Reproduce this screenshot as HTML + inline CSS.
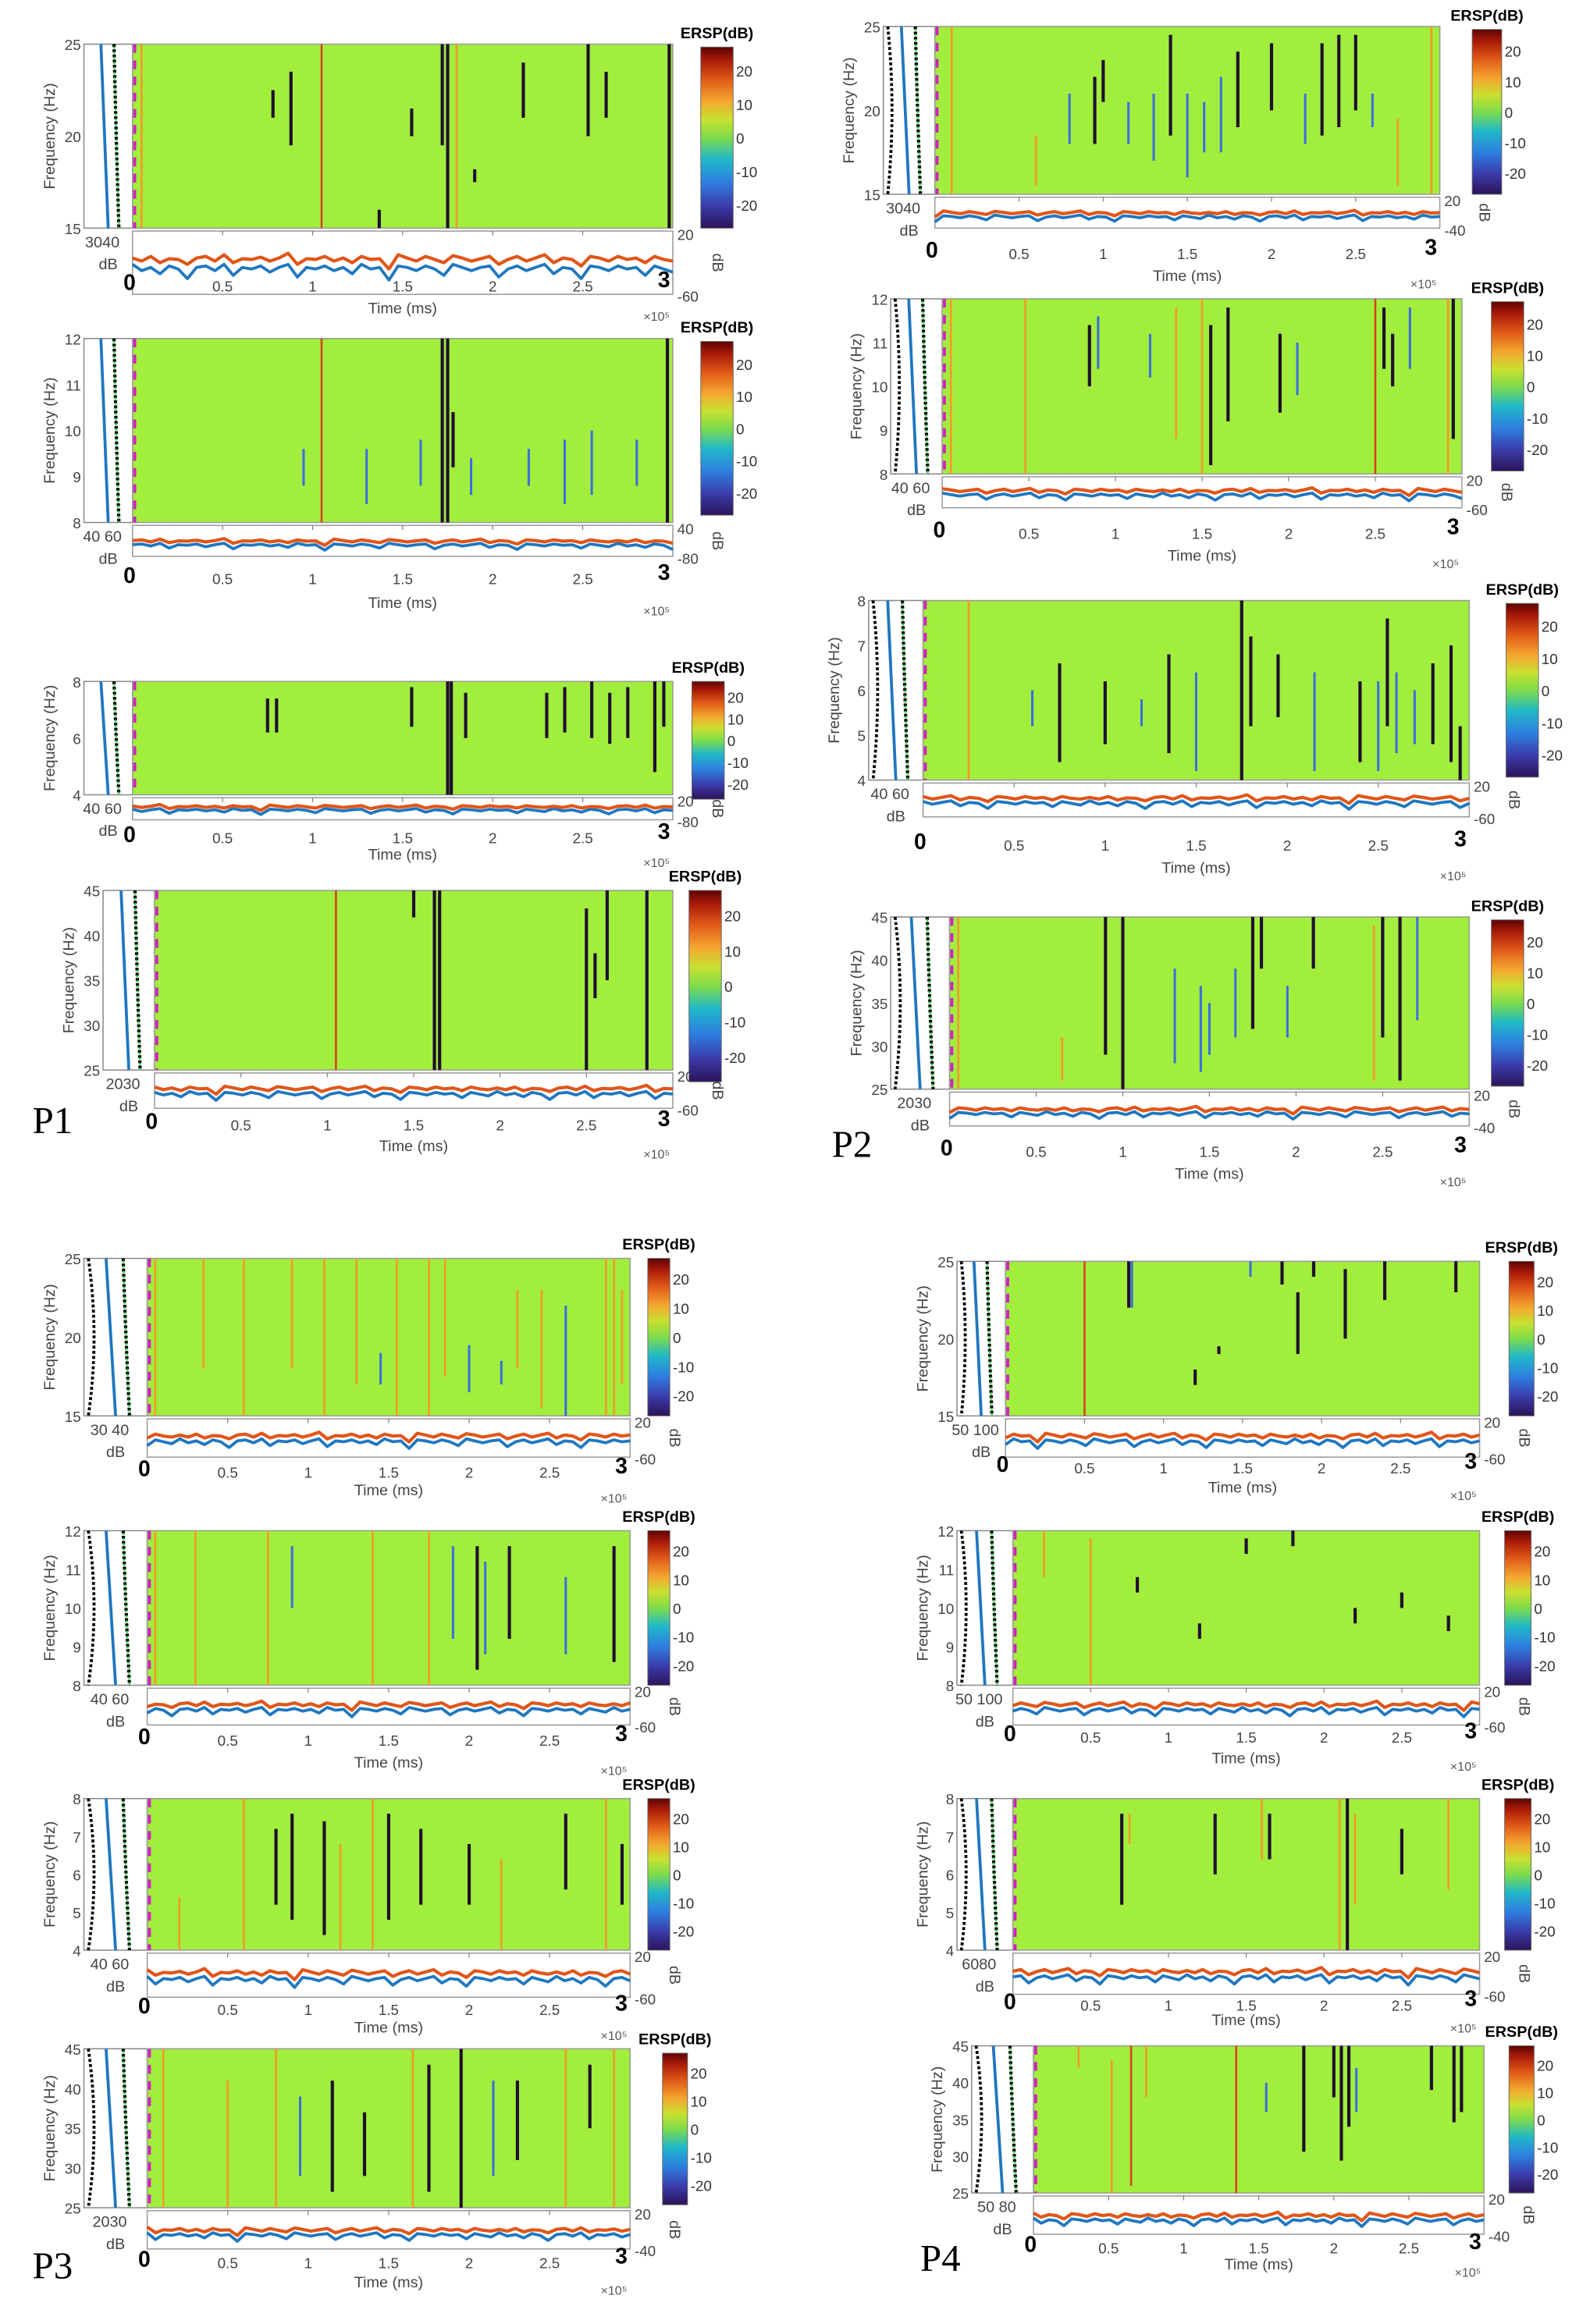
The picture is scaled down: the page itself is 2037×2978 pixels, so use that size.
<!DOCTYPE html>
<html><head><meta charset="utf-8">
<style>
html,body{margin:0;padding:0;background:#fff;}
svg{display:block;}
text{font-family:"Liberation Sans",sans-serif;}
</style></head>
<body>
<svg id="fig" width="2037" height="2978" viewBox="0 0 1080 1579" preserveAspectRatio="none" xmlns="http://www.w3.org/2000/svg">
<defs>
<linearGradient id="cbg" x1="0" y1="1" x2="0" y2="0">
<stop offset="0" stop-color="#2b1458"/><stop offset="0.12" stop-color="#3a3aa8"/><stop offset="0.25" stop-color="#2f7de0"/>
<stop offset="0.38" stop-color="#1fb8c8"/><stop offset="0.5" stop-color="#7edc4a"/><stop offset="0.6" stop-color="#c8e030"/>
<stop offset="0.7" stop-color="#f4a830"/><stop offset="0.82" stop-color="#e05a18"/><stop offset="0.93" stop-color="#a81a08"/><stop offset="1" stop-color="#5c0404"/>
</linearGradient>
</defs>
<text x="22" y="770" font-size="26" font-family="Liberation Serif" style="font-family:'Liberation Serif',serif">P1</text>
<text x="565" y="786" font-size="26" style="font-family:'Liberation Serif',serif">P2</text>
<text x="22" y="1548" font-size="26" style="font-family:'Liberation Serif',serif">P3</text>
<text x="625" y="1543" font-size="26" style="font-family:'Liberation Serif',serif">P4</text>
</svg>
<script>
// ---- data: blue (raw) and orange (smoothed) traces in dB ----
const blueTrace=[-22,-30,-26,-34,-24,-28,-40,-26,-24,-30,-22,-36,-26,-28,-24,-32,-26,-22,-38,-26,-28,-24,-30,-26,-34,-22,-28,-26,-42,-24,-26,-30,-24,-28,-36,-22,-26,-30,-26,-24,-38,-28,-24,-30,-26,-22,-34,-26,-28,-40,-24,-26,-30,-24,-28,-26,-36,-24,-28,-32];
const orangeTrace=[-14,-18,-12,-20,-15,-16,-22,-14,-12,-18,-10,-20,-15,-16,-13,-18,-14,-8,-22,-15,-16,-12,-18,-14,-20,-12,-16,-15,-28,-10,-14,-18,-12,-16,-20,-11,-14,-18,-15,-12,-22,-16,-12,-18,-14,-10,-20,-14,-16,-24,-12,-14,-18,-12,-16,-14,-20,-12,-16,-18];
const xTicks=[0.5,1,1.5,2,2.5];
const cbTicks=[20,10,0,-10,-20];

// event bars per panel: times (x1e5 ms), low/high as fraction of freq axis, kind d=dark o=orange r=red b=blue
const p1aT=[0.05,0.78,0.88,1.05,1.37,1.55,1.72,1.75,1.8,1.9,2.17,2.53,2.63,2.98];
const p1aL=[0,0.6,0.45,0,0,0.5,0.45,0,0,0.25,0.6,0.5,0.6,0];
const p1aH=[1,0.75,0.85,1,0.1,0.65,1,1,1,0.32,0.9,1,0.85,1];
const p1aK=['o','d','d','r','d','d','d','d','o','d','d','d','d','d'];
const p1bT=[1.05,1.72,1.75,1.78,2.97,0.95,1.3,1.6,1.88,2.2,2.4,2.55,2.8];
const p1bL=[0,0,0,0.3,0,0.2,0.1,0.2,0.15,0.2,0.1,0.15,0.2];
const p1bH=[1,1,1,0.6,1,0.4,0.4,0.45,0.35,0.4,0.45,0.5,0.45];
const p1bK=['r','d','d','d','d','b','b','b','b','b','b','b','b'];
const p1cT=[0.75,0.8,1.55,1.75,1.77,1.85,2.3,2.4,2.55,2.65,2.75,2.9,2.95];
const p1cL=[0.55,0.55,0.6,0,0,0.5,0.5,0.55,0.5,0.45,0.5,0.2,0.6];
const p1cH=[0.85,0.85,0.95,1,1,0.9,0.9,0.95,1,0.9,0.95,1,1];
const p1cK=['d','d','d','d','d','d','d','d','d','d','d','d','d'];
const p1dT=[1.05,1.5,1.62,1.65,2.5,2.55,2.62,2.85];
const p1dL=[0,0.85,0,0,0,0.4,0.5,0];
const p1dH=[1,1,1,1,0.9,0.65,1,1];
const p1dK=['r','d','d','d','d','d','d','d'];
const p2aT=[0.1,0.6,0.95,1.0,1.15,1.4,1.5,1.6,1.8,2.0,2.2,2.3,2.4,2.6,2.75,2.95,1.3,1.7,2.5,0.8];
const p2aL=[0,0.05,0.3,0.55,0.3,0.35,0.1,0.25,0.4,0.5,0.3,0.35,0.4,0.4,0.05,0,0.2,0.25,0.5,0.3];
const p2aH=[1,0.35,0.7,0.8,0.55,0.95,0.6,0.55,0.85,0.9,0.6,0.9,0.95,0.6,0.45,1,0.6,0.7,0.95,0.6];
const p2aK=['o','o','d','d','b','d','b','b','d','d','b','d','d','b','o','o','b','b','d','b'];
const p2bT=[0.05,0.48,0.85,1.35,1.5,1.55,1.65,1.95,2.5,2.55,2.6,2.92,2.95,0.9,1.2,2.05,2.7];
const p2bL=[0,0,0.5,0.2,0,0.05,0.3,0.35,0,0.6,0.5,0,0.2,0.6,0.55,0.45,0.6];
const p2bH=[1,1,0.85,0.95,1,0.85,0.95,0.8,1,0.95,0.8,1,1,0.9,0.8,0.75,0.95];
const p2bK=['o','o','d','o','o','d','d','d','r','d','d','o','d','b','b','b','b'];
const p2cT=[0.25,0.75,1.0,1.35,1.5,1.75,1.8,1.95,2.15,2.4,2.5,2.55,2.6,2.7,2.8,2.9,2.95,0.6,1.2];
const p2cL=[0,0.1,0.2,0.15,0.05,0,0.3,0.35,0.05,0.1,0.05,0.3,0.15,0.2,0.2,0.1,0,0.3,0.3];
const p2cH=[1,0.65,0.55,0.7,0.6,1,0.8,0.7,0.6,0.55,0.55,0.9,0.6,0.5,0.65,0.75,0.3,0.5,0.45];
const p2cK=['o','d','d','d','b','d','d','d','b','d','b','d','b','b','d','d','d','b','b'];
const p2dT=[0.05,0.65,0.9,1.0,1.3,1.45,1.65,1.75,1.8,2.1,2.45,2.5,2.6,2.7,1.5,1.95];
const p2dL=[0,0.05,0.2,0,0.15,0.1,0.3,0.35,0.7,0.7,0.05,0.3,0.05,0.4,0.2,0.3];
const p2dH=[1,0.3,1,1,0.7,0.6,0.7,1,1,1,0.95,1,1,1,0.5,0.6];
const p2dK=['o','o','d','d','b','b','b','d','d','d','o','d','d','b','b','b'];
const p3aT=[0.05,0.35,0.6,0.9,1.1,1.3,1.55,1.75,1.85,2.3,2.45,2.6,2.85,2.9,2.95,1.45,2.0,2.2];
const p3aL=[0,0.3,0,0.3,0,0.2,0,0,0.25,0.3,0.05,0,0,0,0.2,0.2,0.15,0.2];
const p3aH=[1,1,1,1,1,1,1,1,1,0.8,0.8,0.7,1,1,0.8,0.4,0.45,0.35];
const p3aK=['o','o','o','o','o','o','o','o','o','o','o','b','o','o','o','b','b','b'];
const p3bT=[0.05,0.3,0.75,1.4,1.75,1.9,2.05,2.1,2.25,2.9,0.9,2.6];
const p3bL=[0,0,0,0,0,0.3,0.1,0.2,0.3,0.15,0.5,0.2];
const p3bH=[1,1,1,1,1,0.9,0.9,0.8,0.9,0.9,0.9,0.7];
const p3bK=['o','o','o','o','o','b','d','b','d','d','b','b'];
const p3cT=[0.2,0.6,0.8,0.9,1.1,1.2,1.4,1.5,1.7,2.0,2.2,2.6,2.85,2.95];
const p3cL=[0,0,0.3,0.2,0.1,0,0,0.2,0.3,0.3,0,0.4,0,0.3];
const p3cH=[0.35,1,0.8,0.9,0.85,0.7,1,0.9,0.8,0.7,0.6,0.9,1,0.7];
const p3cK=['o','o','d','d','d','o','o','d','d','d','o','d','o','d'];
const p3dT=[0.1,0.5,0.8,0.95,1.15,1.35,1.65,1.75,1.95,2.15,2.3,2.6,2.75,2.9];
const p3dL=[0,0,0,0.2,0.1,0.2,0,0.1,0,0.2,0.3,0,0.5,0];
const p3dH=[1,0.8,1,0.7,0.8,0.6,1,0.9,1,0.8,0.8,1,0.9,1];
const p3dK=['o','o','o','b','d','d','o','d','d','b','d','o','d','o'];
const p4aT=[0.5,0.78,0.8,1.2,1.35,1.55,1.75,1.85,1.95,2.15,2.4,2.85];
const p4aL=[0,0.7,0.7,0.2,0.4,0.9,0.85,0.4,0.9,0.5,0.75,0.8];
const p4aH=[1,1,1,0.3,0.45,1,1,0.8,1,0.95,1,1];
const p4aK=['r','d','b','d','d','b','d','d','d','d','d','d'];
const p4bT=[0.2,0.5,0.8,1.2,1.5,1.8,2.2,2.5,2.8];
const p4bL=[0.7,0,0.6,0.3,0.85,0.9,0.4,0.5,0.35];
const p4bH=[1,0.95,0.7,0.4,0.95,1,0.5,0.6,0.45];
const p4bK=['o','o','d','d','d','d','d','d','d'];
const p4cT=[0.7,0.75,1.3,1.6,1.65,2.1,2.15,2.2,2.5,2.8];
const p4cL=[0.3,0.7,0.5,0.6,0.6,0,0,0.3,0.5,0.4];
const p4cH=[0.9,0.9,0.9,1,0.9,1,1,0.9,0.8,1];
const p4cK=['d','o','d','o','d','o','d','o','d','o'];
const p4dT=[0.3,0.52,0.65,0.75,1.35,1.55,1.8,2.0,2.05,2.1,2.15,2.65,2.8,2.85];
const p4dL=[0.85,0,0.05,0.65,0,0.55,0.28,0.65,0.22,0.45,0.55,0.7,0.48,0.55];
const p4dH=[1,0.9,1,1,1,0.75,1,1,1,1,0.85,1,1,1];
const p4dK=['o','o','r','o','r','b','d','d','d','d','b','d','d','d'];

const NS='http://www.w3.org/2000/svg';
const svg=document.getElementById('fig');
function mk(tag,attrs,parent){const e=document.createElementNS(NS,tag);for(const k in attrs)e.setAttribute(k,attrs[k]);(parent||svg).appendChild(e);return e;}
const kindColor={d:'#1e1030',o:'#f29a2c',r:'#d8441a',b:'#3a6ee0'};

// layout only
const panels=[
 {id:'p1a',gx:90,gx2:457,gy:30,gy2:155,ty2:200,tk:198,tl:213,cbx:476,cbw:22,cby:32,cby2:155,lx:57,fl:['25','20','15'],db:'3040',ylab:[20,-60],bars:[p1aT,p1aL,p1aH,p1aK]},
 {id:'p1b',gx:90,gx2:457,gy:230,gy2:355,ty2:378,tk:397,tl:413,cbx:476,cbw:22,cby:232,cby2:350,lx:57,fl:['12','11','10','9','8'],db:'40  60',ylab:[40,-80],bars:[p1bT,p1bL,p1bH,p1bK]},
 {id:'p1c',gx:90,gx2:457,gy:463,gy2:540,ty2:557,tk:573,tl:584,cbx:470,cbw:22,cby:463,cby2:543,lx:57,fl:['8','6','4'],db:'40  60',ylab:[20,-80],bars:[p1cT,p1cL,p1cH,p1cK]},
 {id:'p1d',gx:105,gx2:457,gy:605,gy2:727,ty2:753,tk:768,tl:782,cbx:468,cbw:22,cby:605,cby2:735,lx:70,fl:['45','40','35','30','25'],db:'2030',ylab:[20,-60],bars:[p1dT,p1dL,p1dH,p1dK]},
 {id:'p2a',gx:635,gx2:978,gy:18,gy2:132,ty2:155,tk:176,tl:191,cbx:1000,cbw:20,cby:20,cby2:132,lx:600,fl:['25','20','15'],db:'3040',ylab:[20,-40],bars:[p2aT,p2aL,p2aH,p2aK]},
 {id:'p2b',gx:640,gx2:993,gy:203,gy2:322,ty2:345,tk:366,tl:381,cbx:1013,cbw:22,cby:205,cby2:320,lx:605,fl:['12','11','10','9','8'],db:'40  60',ylab:[20,-60],bars:[p2bT,p2bL,p2bH,p2bK]},
 {id:'p2c',gx:627,gx2:998,gy:408,gy2:530,ty2:555,tk:578,tl:593,cbx:1023,cbw:22,cby:410,cby2:528,lx:590,fl:['8','7','6','5','4'],db:'40  60',ylab:[20,-60],bars:[p2cT,p2cL,p2cH,p2cK]},
 {id:'p2d',gx:645,gx2:998,gy:623,gy2:740,ty2:765,tk:786,tl:801,cbx:1013,cbw:22,cby:625,cby2:738,lx:605,fl:['45','40','35','30','25'],db:'2030',ylab:[20,-40],bars:[p2dT,p2dL,p2dH,p2dK]},
 {id:'p3a',gx:100,gx2:428,gy:855,gy2:962,ty2:990,tk:1004,tl:1016,cbx:440,cbw:15,cby:855,cby2:962,lx:57,fl:['25','20','15'],db:'30 40',ylab:[20,-60],bars:[p3aT,p3aL,p3aH,p3aK]},
 {id:'p3b',gx:100,gx2:428,gy:1040,gy2:1145,ty2:1172,tk:1186,tl:1201,cbx:440,cbw:15,cby:1040,cby2:1145,lx:57,fl:['12','11','10','9','8'],db:'40  60',ylab:[20,-60],bars:[p3bT,p3bL,p3bH,p3bK]},
 {id:'p3c',gx:100,gx2:428,gy:1222,gy2:1325,ty2:1357,tk:1369,tl:1381,cbx:440,cbw:15,cby:1222,cby2:1325,lx:57,fl:['8','7','6','5','4'],db:'40  60',ylab:[20,-60],bars:[p3cT,p3cL,p3cH,p3cK]},
 {id:'p3d',gx:100,gx2:428,gy:1392,gy2:1500,ty2:1528,tk:1541,tl:1554,cbx:450,cbw:17,cby:1395,cby2:1498,lx:57,fl:['45','40','35','30','25'],db:'2030',ylab:[20,-40],bars:[p3dT,p3dL,p3dH,p3dK]},
 {id:'p4a',gx:683,gx2:1005,gy:857,gy2:962,ty2:990,tk:1001,tl:1014,cbx:1025,cbw:17,cby:857,cby2:962,lx:650,fl:['25','20','15'],db:'50   100',ylab:[20,-60],bars:[p4aT,p4aL,p4aH,p4aK]},
 {id:'p4b',gx:688,gx2:1005,gy:1040,gy2:1145,ty2:1172,tk:1184,tl:1198,cbx:1022,cbw:18,cby:1040,cby2:1145,lx:650,fl:['12','11','10','9','8'],db:'50   100',ylab:[20,-60],bars:[p4bT,p4bL,p4bH,p4bK]},
 {id:'p4c',gx:688,gx2:1005,gy:1222,gy2:1325,ty2:1355,tk:1366,tl:1376,cbx:1022,cbw:18,cby:1222,cby2:1325,lx:650,fl:['8','7','6','5','4'],db:'6080',ylab:[20,-60],bars:[p4cT,p4cL,p4cH,p4cK]},
 {id:'p4d',gx:702,gx2:1008,gy:1390,gy2:1490,ty2:1518,tk:1531,tl:1542,cbx:1025,cbw:17,cby:1390,cby2:1490,lx:660,fl:['45','40','35','30','25'],db:'50  80',ylab:[20,-40],bars:[p4dT,p4dL,p4dH,p4dK]}
];

panels.forEach((p,pi)=>{
 const g=mk('g',{});
 
 
 const xs=t=>p.gx+(t/3)*(p.gx2-p.gx);
 const ys=f=>p.gy2-f*(p.gy2-p.gy);
 // left spectrum axes
 const lb=mk('rect',{x:p.lx,y:p.gy,width:p.gx-p.lx,height:p.gy2-p.gy,fill:'#fff',stroke:'#888','stroke-width':0.8},g);
 
 const w=p.gx-p.lx;
 const bl=mk('path',{d:`M${p.lx+w*0.35},${p.gy} Q${p.lx+w*0.42},${(p.gy+p.gy2)/2} ${p.lx+w*0.5},${p.gy2}`,fill:'none',stroke:'#1f77c0','stroke-width':2},g);
 
 const dl=mk('path',{d:`M${p.lx+w*0.62},${p.gy} Q${p.lx+w*0.66},${(p.gy+p.gy2)/2} ${p.lx+w*0.72},${p.gy2}`,fill:'none',stroke:'#000','stroke-width':2.2,'stroke-dasharray':'2 1.5'},g);
 
 mk('path',{d:`M${p.lx+w*0.62},${p.gy} Q${p.lx+w*0.66},${(p.gy+p.gy2)/2} ${p.lx+w*0.72},${p.gy2}`,fill:'none',stroke:'#2ecc40','stroke-width':1.2,'stroke-dasharray':'1.5 2','stroke-dashoffset':'2'},g);
 if(pi>=4){mk('path',{d:`M${p.lx+3},${p.gy} Q${p.lx+w*0.25},${(p.gy+p.gy2)/2} ${p.lx+3},${p.gy2}`,fill:'none',stroke:'#000','stroke-width':2,'stroke-dasharray':'2 1.5'},g);}
 // freq tick labels
 p.fl.forEach((s,i)=>{const yy=p.gy+i*(p.gy2-p.gy)/(p.fl.length-1);
  const t=mk('text',{x:p.lx-2,y:yy+4,'font-size':10,'text-anchor':'end',fill:'#444'},g);t.textContent=s;
  });
 const yl=mk('text',{x:0,y:0,'font-size':10.5,'text-anchor':'middle',fill:'#444',transform:`translate(${p.lx-20},${(p.gy+p.gy2)/2}) rotate(-90)`},g);
 yl.textContent='Frequency (Hz)';
 const d1=mk('text',{x:(p.lx+p.gx)/2-4,y:p.gy2+13,'font-size':10.5,'text-anchor':'middle',fill:'#444'},g);d1.textContent=p.db;
 
 const d2=mk('text',{x:(p.lx+p.gx)/2,y:p.gy2+28,'font-size':10.5,'text-anchor':'middle',fill:'#444'},g);d2.textContent='dB';
 
 // green ERSP
 const gr=mk('rect',{x:p.gx,y:p.gy,width:p.gx2-p.gx,height:p.gy2-p.gy,fill:'#a2ee3c',stroke:'#999','stroke-width':0.8},g);
 
 const [T,L,H,K]=p.bars;
 T.forEach((t,i)=>{const bw=K[i]==='d'?2.2:(K[i]==='b'?1.6:1.4);
  const r=mk('rect',{x:xs(t)-bw/2,y:ys(H[i]),width:bw,height:ys(L[i])-ys(H[i]),fill:kindColor[K[i]]},g);
  });
 const mg=mk('line',{x1:p.gx+1.5,y1:p.gy,x2:p.gx+1.5,y2:p.gy2,stroke:'#d020c0','stroke-width':2,'stroke-dasharray':'6 5'},g);
 
 // trace axis
 const ty1=p.gy2+2;
 const tb=mk('rect',{x:p.gx,y:ty1,width:p.gx2-p.gx,height:p.ty2-ty1,fill:'#fff',stroke:'#999','stroke-width':0.8},g);
 
 xTicks.forEach(v=>{mk('line',{x1:xs(v),y1:ty1,x2:xs(v),y2:ty1+3,stroke:'#777','stroke-width':0.6},g);
  const t=mk('text',{x:xs(v),y:p.tk,'font-size':10,'text-anchor':'middle',fill:'#444'},g);t.textContent=String(v);
  });
 const ty=v=>ty1+(p.ylab[0]-v)/(p.ylab[0]-p.ylab[1])*(p.ty2-ty1);
 const n=blueTrace.length;
 [['blue',blueTrace,'#1f77c0',2],['orange',orangeTrace,'#e0561a',2.2]].forEach(([nm,arr,c,sw])=>{
  const off=(pi*7)%n;
  const pts=arr.map((_,i)=>{const v=arr[(i+off)%n]*Math.abs(p.ylab[1])/60;return `${(xs(3*i/(n-1))).toFixed(1)},${ty(v).toFixed(1)}`;}).join(' ');
  const pl=mk('polyline',{points:pts,fill:'none',stroke:c,'stroke-width':sw,'stroke-linejoin':'round'},g);
  });
 const a=mk('text',{x:p.gx2+3,y:ty1+6,'font-size':10,fill:'#444'},g);a.textContent=String(p.ylab[0]);
 
 const b=mk('text',{x:p.gx2+3,y:p.ty2+5,'font-size':10,fill:'#444'},g);b.textContent=String(p.ylab[1]);
 
 const db=mk('text',{x:0,y:0,'font-size':10.5,'text-anchor':'middle',fill:'#444',transform:`translate(${p.gx2+27},${(ty1+p.ty2)/2}) rotate(90)`},g);db.textContent='dB';
 
 const z=mk('text',{x:p.gx-2,y:p.tk-1,'font-size':15,'font-weight':'bold','text-anchor':'middle'},g);z.textContent='0';
 
 const th=mk('text',{x:p.gx2-6,y:p.tk-3,'font-size':15,'font-weight':'bold','text-anchor':'middle'},g);th.textContent='3';
 
 const tl=mk('text',{x:(p.gx+p.gx2)/2,y:p.tl,'font-size':10.5,'text-anchor':'middle',fill:'#444'},g);tl.textContent='Time (ms)';
 
 const ex=mk('text',{x:p.gx2-20,y:p.tl+5,'font-size':8.5,fill:'#555'},g);ex.textContent='×10⁵';
 
 // colorbar
 const cb=mk('rect',{x:p.cbx,y:p.cby,width:p.cbw,height:p.cby2-p.cby,fill:'url(#cbg)',stroke:'#666','stroke-width':0.5},g);
 
 const ct=mk('text',{x:p.cbx+p.cbw/2,y:p.cby-6,'font-size':10.5,'font-weight':'bold','text-anchor':'middle'},g);ct.textContent='ERSP(dB)';
 
 cbTicks.forEach(v=>{const yy=p.cby+(27-v)/54*(p.cby2-p.cby);
  const t=mk('text',{x:p.cbx+p.cbw+2,y:yy+4,'font-size':10,fill:'#333'},g);t.textContent=String(v);
  });
});
</script>
</body></html>
